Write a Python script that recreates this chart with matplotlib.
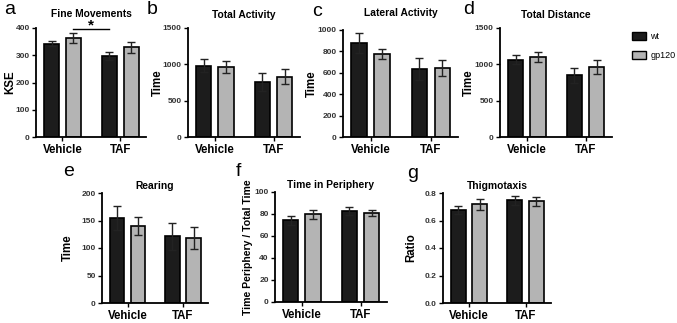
import matplotlib
matplotlib.use("Agg")
import matplotlib.pyplot as plt
from matplotlib.patches import Patch
import numpy as np

plt.rcParams["font.family"] = ["Liberation Sans", "DejaVu Sans"]

GROUPS = ["Vehicle", "TAF"]
SERIES = ["wt", "gp120"]
COLORS = ["#1c1c1c", "#b4b4b4"]

fine_wt = [343, 297]
fine_wt_err = [10, 15]
fine_gp = [362, 329]
fine_gp_err = [18, 21]

act_wt = [982, 761]
act_wt_err = [90, 125]
act_gp = [969, 830]
act_gp_err = [83, 107]

lat_wt = [876, 634]
lat_wt_err = [93, 102]
lat_gp = [774, 646]
lat_gp_err = [46, 74]

dist_wt = [1063, 848]
dist_wt_err = [65, 102]
dist_gp = [1101, 963]
dist_gp_err = [69, 101]

rear_wt = [155, 121]
rear_wt_err = [22, 24]
rear_gp = [140, 119]
rear_gp_err = [16, 20]

peri_wt = [74.2, 82.7]
peri_wt_err = [4.0, 4.0]
peri_gp = [79.6, 80.9]
peri_gp_err = [4.3, 3.0]

thig_wt = [0.675, 0.746]
thig_wt_err = [0.03, 0.034]
thig_gp = [0.717, 0.739]
thig_gp_err = [0.04, 0.03]

PANELS = [
    # letter, title, ylabel, yticks, data, axes box px (l, r, t, b), title pad, ylabel x, ylabel size
    ("a", "Fine Movements", "KSE", [0, 100, 200, 300, 400],
     (fine_wt, fine_wt_err, fine_gp, fine_gp_err), (36, 146, 28, 137), 8, -0.18, 8.3),
    ("b", "Total Activity", "Time", [0, 500, 1000, 1500],
     (act_wt, act_wt_err, act_gp, act_gp_err), (188, 300, 28, 137), 7, -0.214, 8.3),
    ("c", "Lateral Activity", "Time", [0, 200, 400, 600, 800, 1000],
     (lat_wt, lat_wt_err, lat_gp, lat_gp_err), (343, 458, 30, 137), 10, -0.217, 8.3),
    ("d", "Total Distance", "Time", [0, 500, 1000, 1500],
     (dist_wt, dist_wt_err, dist_gp, dist_gp_err), (500, 612, 28, 137), 7, -0.223, 8.3),
    ("e", "Rearing", "Time", [0, 50, 100, 150, 200],
     (rear_wt, rear_wt_err, rear_gp, rear_gp_err), (102, 208, 193, 303), 3, -0.264, 8.3),
    ("f", "Time in Periphery", "Time Periphery / Total Time", [0, 20, 40, 60, 80, 100],
     (peri_wt, peri_wt_err, peri_gp, peri_gp_err), (275, 387, 192, 302), 3, -0.196, 7.6),
    ("g", "Thigmotaxis", "Ratio", [0.0, 0.2, 0.4, 0.6, 0.8],
     (thig_wt, thig_wt_err, thig_gp, thig_gp_err), (443, 551, 193, 303), 3, -0.24, 8.3),
]

LETTER_POS = {"a": (4, 10), "b": (147, 10), "c": (312, 12), "d": (463, 10),
              "e": (63, 172), "f": (236, 172), "g": (407, 173)}

W, H = 677, 323
fig = plt.figure(figsize=(W / 100, H / 100), dpi=100)

x = np.arange(len(GROUPS))
off = 0.19
bw = 0.26

axes = {}
for letter, title, ylabel, yticks, data, box, pad, ylx, yls in PANELS:
    l, r, t, b = box
    ax = fig.add_axes([l / W, 1 - b / H, (r - l) / W, (b - t) / H])
    axes[letter] = ax
    wt, wt_err, gp, gp_err = data
    for i, (vals, errs) in enumerate([(wt, wt_err), (gp, gp_err)]):
        pos = x + (-off if i == 0 else off)
        ax.bar(pos, vals, bw, color=COLORS[i], edgecolor="black", linewidth=1.2, zorder=2)
        ax.errorbar(pos, vals, yerr=errs, fmt="none", ecolor="#222222",
                    elinewidth=1.0, capsize=3, capthick=1.0, zorder=3)
    ax.set_xlim(-0.46, 1.45)
    ax.set_ylim(0, yticks[-1])
    ax.set_yticks(yticks)
    if letter == "g":
        ax.set_yticklabels([f"{v:.1f}" for v in yticks])
    ax.set_xticks(x)
    ax.set_xticklabels(GROUPS, fontsize=8.3, fontweight="bold")
    for lab in ax.get_yticklabels():
        lab.set_fontsize(6)
        lab.set_fontweight("bold")
        lab.set_color("#333333")
    ax.tick_params(axis="y", length=3, width=1.0, pad=1.5)
    ax.tick_params(axis="x", length=3, width=1.0, pad=2)
    for s in ["top", "right"]:
        ax.spines[s].set_visible(False)
    for s in ["left", "bottom"]:
        ax.spines[s].set_linewidth(1.3)
    ax.set_title(title, fontsize=7.4, fontweight="bold", pad=pad)
    ax.set_ylabel(ylabel, fontsize=yls, fontweight="bold")
    ax.yaxis.set_label_coords(ylx, 0.5)
    lx, ly = LETTER_POS[letter]
    fig.text(lx / W, 1 - ly / H, letter, fontsize=14, ha="left", va="center")

# significance bar in panel a
ax = axes["a"]
ax.plot([0 + off, 1 - off], [397, 397], color="black", lw=1.0, clip_on=False)
ax.text(0.5, 408, "*", ha="center", va="center", fontsize=11, fontweight="bold")

handles = [Patch(facecolor=COLORS[i], edgecolor="black", linewidth=1.0) for i in range(2)]
fig.legend(handles, SERIES, loc="upper left", bbox_to_anchor=(626 / W, 1 - 26 / H),
           frameon=False, fontsize=6.5, handlelength=1.5, handleheight=0.9,
           labelspacing=1.1, handletextpad=0.5, borderpad=0.2)

fig.savefig("out.png", dpi=100)
